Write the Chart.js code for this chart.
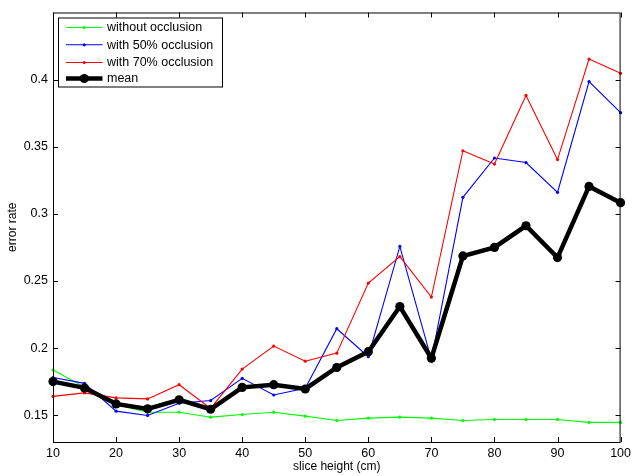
<!DOCTYPE html>
<html>
<head>
<meta charset="utf-8">
<script src="https://cdn.jsdelivr.net/npm/chart.js@4/dist/chart.umd.min.js"></script>
<style>
html,body{margin:0;padding:0;background:#fff;}
#wrap{width:635px;height:476px;position:relative;}
</style>
</head>
<body>
<div id="wrap"><canvas id="c" width="635" height="476"></canvas></div>
<script>
const sliceHeights = [10,15,20,25,30,35,40,45,50,55,60,65,70,75,80,85,90,95,100];
const withoutOcclusion = [0.1836,0.171,0.158,0.1522,0.1522,0.1485,0.1505,0.1522,0.1493,0.146,0.1478,0.1485,0.1478,0.146,0.1468,0.1468,0.1468,0.1446,0.1446];
const with50Occlusion = [0.178,0.1737,0.153,0.1498,0.1589,0.1609,0.1774,0.165,0.170,0.2144,0.1936,0.2757,0.1914,0.3123,0.3416,0.3382,0.316,0.3985,0.3754];
const with70Occlusion = [0.164,0.1666,0.1629,0.1621,0.1727,0.155,0.1843,0.2015,0.1902,0.1962,0.2484,0.2681,0.238,0.347,0.3371,0.3882,0.3404,0.4153,0.4047];
const meanValues = [0.175,0.1703,0.1584,0.1547,0.1614,0.1544,0.1707,0.1727,0.1695,0.1855,0.1973,0.2309,0.1924,0.2686,0.275,0.2911,0.2674,0.3204,0.3083];
const xTicks = [10,20,30,40,50,60,70,80,90,100];
const yTicks = [0.15,0.2,0.25,0.3,0.35,0.4];
const yTickLabels = ['0.15','0.2','0.25','0.3','0.35','0.4'];
const seriesNames = ['without occlusion','with 50% occlusion','with 70% occlusion','mean'];

const FONT = '"Liberation Sans", Arial, Helvetica, sans-serif';
const toPts = arr => arr.map((v,i)=>({x:sliceHeights[i], y:v}));

function thin(label, data, color, order){
  return {label, data: toPts(data), borderColor: color, backgroundColor: color,
    borderWidth: 1.1, pointRadius: 1.6, pointBorderWidth: 0, pointBackgroundColor: color,
    tension: 0, order, clip: 10};
}

const boxPlugin = {
  id: 'matlabBox',
  afterDatasetsDraw(chart){
    const {ctx, chartArea: a, scales: {x, y}} = chart;
    ctx.save();
    ctx.strokeStyle = '#000';
    ctx.lineWidth = 1;
    ctx.strokeRect(a.left + 0.5, a.top + 0.5, a.right - a.left - 1, a.bottom - a.top);
    const tl = 5;
    ctx.beginPath();
    xTicks.forEach(v => {
      const px = Math.round(x.getPixelForValue(v)) + 0.5;
      ctx.moveTo(px, a.bottom); ctx.lineTo(px, a.bottom - tl);
      ctx.moveTo(px, a.top); ctx.lineTo(px, a.top + tl);
    });
    yTicks.forEach(v => {
      const py = Math.round(y.getPixelForValue(v)) + 0.5;
      ctx.moveTo(a.left, py); ctx.lineTo(a.left + tl, py);
      ctx.moveTo(a.right, py); ctx.lineTo(a.right - tl, py);
    });
    ctx.stroke();

    // legend
    const bx = a.left + 5.5, by = a.top + 5.5, bw = 164, bh = 69;
    ctx.fillStyle = '#fff';
    ctx.fillRect(bx, by, bw, bh);
    ctx.strokeRect(bx, by, bw, bh);
    const rowsY = [by + 9.5, by + 26.8, by + 44.5, by + 60.5];
    chart.data.datasets.forEach((ds, i) => {
      const ry = rowsY[i];
      const x0 = bx + 7.5, x1 = bx + 44, xm = (x0 + x1) / 2;
      ctx.strokeStyle = ds.borderColor;
      ctx.lineWidth = ds.borderWidth;
      ctx.beginPath(); ctx.moveTo(x0, ry); ctx.lineTo(x1, ry); ctx.stroke();
      ctx.fillStyle = ds.borderColor;
      ctx.beginPath(); ctx.arc(xm, ry, ds.pointRadius, 0, Math.PI * 2); ctx.fill();
      ctx.fillStyle = '#000';
      ctx.font = '12.5px ' + FONT;
      ctx.textBaseline = 'middle';
      ctx.textAlign = 'left';
      ctx.fillText(ds.label, bx + 48.5, ry + 0.5);
    });
    ctx.restore();
  }
};

new Chart(document.getElementById('c'), {
  type: 'line',
  data: {
    datasets: [
      thin(seriesNames[0], withoutOcclusion, '#00ff00', 3),
      thin(seriesNames[1], with50Occlusion, '#0000ff', 2),
      thin(seriesNames[2], with70Occlusion, '#ff0000', 1),
      {label: seriesNames[3], data: toPts(meanValues), borderColor: '#000', backgroundColor: '#000',
       borderWidth: 4.5, pointRadius: 4.6, pointBorderWidth: 0, pointBackgroundColor: '#000',
       tension: 0, order: 0, clip: 10}
    ]
  },
  options: {
    responsive: false,
    animation: false,
    devicePixelRatio: 1,
    layout: {padding: {left: 0, right: 11, top: 10, bottom: 0}},
    plugins: {legend: {display: false}, tooltip: {enabled: false}},
    scales: {
      x: {
        type: 'linear', min: 10, max: 100,
        afterFit(s){ s.height = 34; },
        afterBuildTicks(s){ s.ticks = xTicks.map(v => ({value: v})); },
        grid: {display: false, drawTicks: false},
        border: {display: false},
        ticks: {color: '#000', font: {family: FONT, size: 12.5}, padding: 4, maxRotation: 0,
                callback: v => String(v)},
        title: {display: true, text: 'slice height (cm)', color: '#000',
                font: {family: FONT, size: 12}, padding: {top: 0, bottom: 2}}
      },
      y: {
        type: 'linear', min: 0.13, max: 0.45,
        afterFit(s){ s.width = 53; },
        afterBuildTicks(s){ s.ticks = yTicks.map(v => ({value: v})); },
        grid: {display: false, drawTicks: false},
        border: {display: false},
        ticks: {color: '#000', font: {family: FONT, size: 12.5}, padding: 5,
                callback: (v) => { const i = yTicks.findIndex(t => Math.abs(t - v) < 1e-9); return i >= 0 ? yTickLabels[i] : ''; }},
        title: {display: true, text: 'error rate', color: '#000',
                font: {family: FONT, size: 12}, padding: {top: 5, bottom: 0}}
      }
    }
  },
  plugins: [boxPlugin]
});
</script>
</body>
</html>
